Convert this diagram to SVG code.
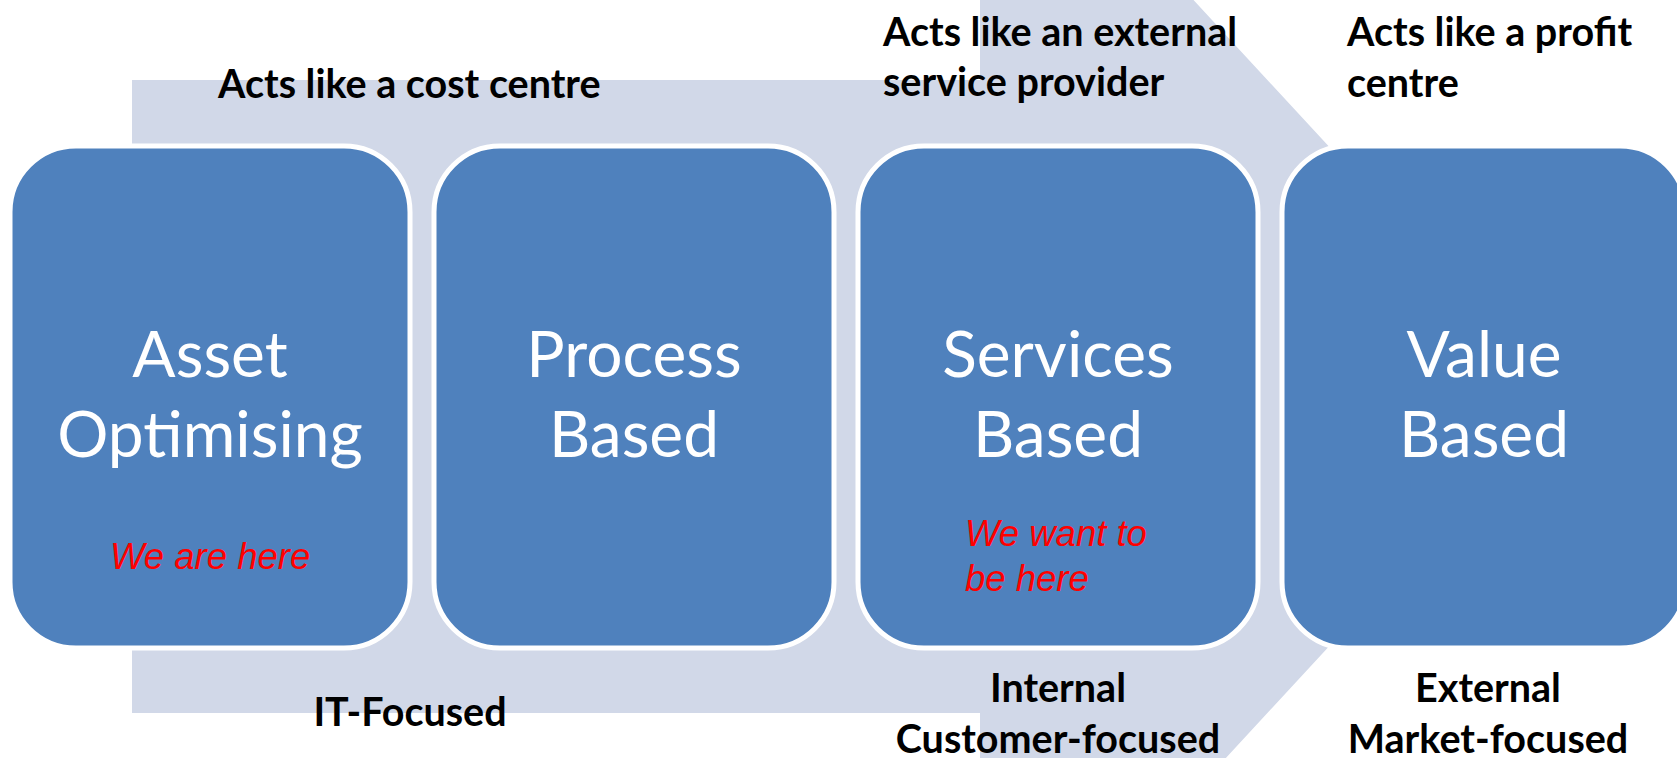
<svg xmlns="http://www.w3.org/2000/svg" width="1677" height="758" viewBox="0 0 1677 758">
<style>
.box{fill:#4F81BD;stroke:#FFFFFF;stroke-width:5}
.big{font-family:Lato,"Liberation Sans",sans-serif;font-size:64px;fill:#FFFFFF;text-anchor:middle}
.lbl{font-family:Lato,"Liberation Sans",sans-serif;font-weight:bold;font-size:39.5px;fill:#000000}
.red{font-family:"Liberation Sans",Arial,sans-serif;font-style:italic;font-size:36.5px;fill:#FF0000}
</style>
<rect width="1677" height="758" fill="#FFFFFF"/>
<g id="arrow">
<path d="M132,80 L980,80 L980,-231 L1560,396.5 L980,1024 L980,713 L132,713 Z" fill="#D1D8E8"/>
</g>
<g id="node-asset">
<rect class="box" x="10" y="146" width="400" height="502" rx="66"/>
<text class="big" x="210" y="377">Asset</text>
<text class="big" x="210" y="457">Optimising</text>
<text class="red" x="110" y="569">We are here</text>
</g>
<g id="node-process">
<rect class="box" x="434" y="146" width="400" height="502" rx="66"/>
<text class="big" x="634" y="377">Process</text>
<text class="big" x="634" y="457">Based</text>
</g>
<g id="node-services">
<rect class="box" x="858" y="146" width="400" height="502" rx="66"/>
<text class="big" x="1058" y="377">Services</text>
<text class="big" x="1058" y="457">Based</text>
<text class="red" x="965" y="546">We want to</text>
<text class="red" x="965" y="591">be here</text>
</g>
<g id="node-value">
<rect class="box" x="1282" y="146" width="404" height="502" rx="66"/>
<text class="big" x="1484" y="377">Value</text>
<text class="big" x="1484" y="457">Based</text>
</g>
<g id="labels">
<text class="lbl" x="218" y="98">Acts like a cost centre</text>
<text class="lbl" x="883" y="46">Acts like an external</text>
<text class="lbl" x="883" y="96">service provider</text>
<text class="lbl" x="1347" y="46">Acts like a profit</text>
<text class="lbl" x="1347" y="97">centre</text>
<text class="lbl" x="410" y="726" text-anchor="middle">IT-Focused</text>
<text class="lbl" x="1058" y="702" text-anchor="middle">Internal</text>
<text class="lbl" x="1058" y="753" text-anchor="middle">Customer-focused</text>
<text class="lbl" x="1488" y="702" text-anchor="middle">External</text>
<text class="lbl" x="1488" y="753" text-anchor="middle">Market-focused</text>
</g>
<g id="connectors"></g>
</svg>
